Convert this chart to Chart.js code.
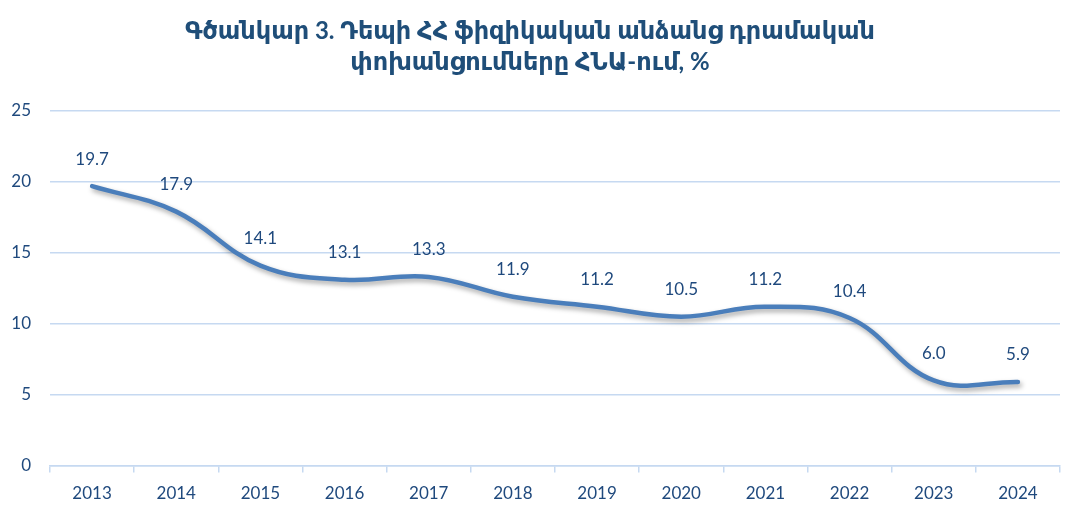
<!DOCTYPE html>
<html><head><meta charset="utf-8">
<script src="https://cdn.jsdelivr.net/npm/chart.js@4.4.1/dist/chart.umd.min.js"></script>
<style>html,body{margin:0;padding:0;background:#fff}#wrap{width:1082px;height:515px}</style>
</head><body><div id="wrap"><canvas id="c" width="1082" height="515"></canvas></div>
<script>
const years = ['2013','2014','2015','2016','2017','2018','2019','2020','2021','2022','2023','2024'];
const remittances = [19.7,17.9,14.1,13.1,13.3,11.9,11.2,10.5,11.2,10.4,6.0,5.9];
const yTicks = [0,5,10,15,20,25];
const titleLines = ['Գծանկար 3. Դեպի ՀՀ ֆիզիկական անձանց դրամական','փոխանցումները ՀՆԱ-ում, %'];

const txtColor = '#1F497D';
const fontFam = 'Lato, "DejaVu Sans", sans-serif';

const shadowPlugin = {
  id:'shadow',
  beforeDatasetDraw(chart){ const ctx=chart.ctx; ctx.save(); ctx.shadowColor='rgba(0,0,0,0.35)'; ctx.shadowBlur=5; ctx.shadowOffsetX=2; ctx.shadowOffsetY=3; },
  afterDatasetDraw(chart){ chart.ctx.restore(); }
};
const labelPlugin = {
  id:'labels',
  afterDatasetsDraw(chart){
    const ctx=chart.ctx; const meta=chart.getDatasetMeta(0);
    ctx.save(); ctx.fillStyle=txtColor; ctx.font='17px '+fontFam; ctx.textAlign='center'; ctx.textBaseline='middle';
    meta.data.forEach((p,i)=>{ ctx.fillText(remittances[i].toFixed(1), p.x, p.y-27); });
    ctx.restore();
  }
};

new Chart(document.getElementById('c'),{
  type:'line',
  data:{labels:years,datasets:[{data:remittances,borderColor:'#4A7EBB',borderWidth:4.5,tension:0.4,pointRadius:0,fill:false,borderCapStyle:'round'}]},
  options:{
    responsive:false,animation:false,
    layout:{padding:{left:0,right:22,top:0,bottom:0}},
    plugins:{legend:{display:false},tooltip:{enabled:false},
      title:{display:true,text:titleLines,color:'#1F4E79',font:{family:fontFam,size:24,weight:'bold',lineHeight:1.29},padding:{top:16,bottom:33}}},
    scales:{
      x:{offset:true,grid:{offset:true,drawOnChartArea:false,color:'#C6D9F1',tickLength:7,lineWidth:1.5},border:{color:'#C6D9F1',width:1.5},
         ticks:{color:txtColor,font:{family:fontFam,size:17},padding:11}},
      y:{min:0,max:25,afterBuildTicks(s){s.ticks=yTicks.map(v=>({value:v}));},afterFit(s){s.width=50;},
         grid:{color:'#C6D9F1',lineWidth:1.5,drawTicks:false},border:{display:false},
         ticks:{color:txtColor,font:{family:fontFam,size:17},padding:19}}
    }
  },
  plugins:[shadowPlugin,labelPlugin]
});
</script></body></html>
